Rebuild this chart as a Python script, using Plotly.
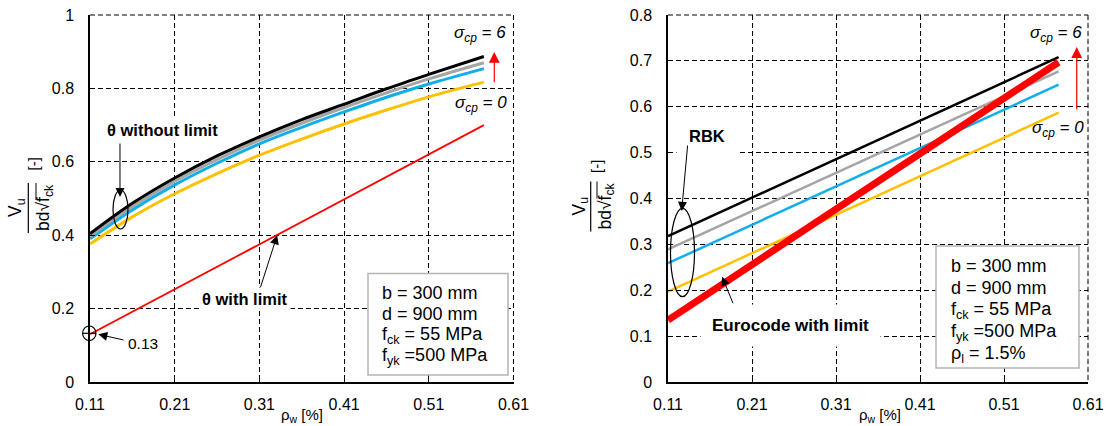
import plotly.graph_objects as go

W, H = 1106, 426

# ---------------- data ----------------
# Left panel: theta without limit (curves) and theta with limit (red line)
rho_left = [0.11, 0.16, 0.21, 0.26, 0.31, 0.36, 0.41, 0.46, 0.51, 0.575]
left_black = [0.404, 0.487, 0.556, 0.616, 0.668, 0.715, 0.757, 0.799, 0.838, 0.887]
left_gray = [0.397, 0.478, 0.547, 0.606, 0.659, 0.705, 0.748, 0.788, 0.826, 0.870]
left_blue = [0.390, 0.469, 0.537, 0.596, 0.649, 0.694, 0.736, 0.776, 0.812, 0.854]
left_yellow = [0.376, 0.450, 0.513, 0.568, 0.618, 0.662, 0.703, 0.741, 0.777, 0.817]
rho_red_left = [0.11, 0.575]
left_red = [0.13, 0.70]

# Right panel: RBK lines and Eurocode with limit
rho_right = [0.11, 0.575]
right_black = [0.318, 0.708]
right_gray = [0.289, 0.677]
right_blue = [0.259, 0.648]
right_yellow = [0.197, 0.587]
right_red = [0.135, 0.697]

x_ticks = [0.11, 0.21, 0.31, 0.41, 0.51, 0.61]
x_ticktext = ["0.11", "0.21", "0.31", "0.41", "0.51", "0.61"]
yl_ticks = [0, 0.2, 0.4, 0.6, 0.8, 1.0]
yl_ticktext = ["0", "0.2", "0.4", "0.6", "0.8", "1"]
yr_ticks = [0, 0.1, 0.2, 0.3, 0.4, 0.5, 0.6, 0.7, 0.8]
yr_ticktext = ["0", "0.1", "0.2", "0.3", "0.4", "0.5", "0.6", "0.7", "0.8"]

box_left_lines = ["b = 300 mm", "d = 900 mm", "f<sub>ck</sub> = 55 MPa", "f<sub>yk</sub> =500 MPa"]
box_right_lines = ["b = 300 mm", "d = 900 mm", "f<sub>ck</sub> = 55 MPa", "f<sub>yk</sub> =500 MPa",
                   "ρ<sub>l</sub> = 1.5%"]

# ---------------- style ----------------
FONT = "Liberation Sans, Arial, Helvetica, sans-serif"
C_BLACK = "#000000"
C_GRAY = "#a5a5a5"
C_BLUE = "#12aee8"
C_YELLOW = "#ffc000"
C_RED = "#ff0000"
DASH = "5px,3px"


def px(x):
    return x / W


def py(y):
    return 1 - y / H


fig = go.Figure()


def add_line(x, y, color, width, xa, ya, shape="linear"):
    fig.add_trace(go.Scatter(x=x, y=y, mode="lines", xaxis=xa, yaxis=ya,
                             line=dict(color=color, width=width, shape=shape),
                             showlegend=False, hoverinfo="skip"))


# left panel
add_line(rho_red_left, left_red, C_RED, 1.8, "x", "y")
add_line(rho_left, left_yellow, C_YELLOW, 3, "x", "y", "spline")
add_line(rho_left, left_blue, C_BLUE, 3, "x", "y", "spline")
add_line(rho_left, left_gray, C_GRAY, 3, "x", "y", "spline")
add_line(rho_left, left_black, C_BLACK, 3, "x", "y", "spline")

# right panel
add_line(rho_right, right_yellow, C_YELLOW, 2.5, "x2", "y2")
add_line(rho_right, right_blue, C_BLUE, 2.5, "x2", "y2")
add_line(rho_right, right_gray, C_GRAY, 2.5, "x2", "y2")
add_line(rho_right, right_black, C_BLACK, 2.5, "x2", "y2")
add_line(rho_right, right_red, C_RED, 7, "x2", "y2")

PL_L, PL_R = 90, 513.5
PR_L, PR_R = 668, 1088
P_T, P_B = 15, 382
ydom = [py(P_B), py(P_T)]
axis_common = dict(
    showline=True, linecolor="black", linewidth=1.5,
    showgrid=True, gridcolor="black", gridwidth=1, griddash=DASH,
    zeroline=False, ticks="inside", ticklen=5, tickcolor="black", tickwidth=1,
    tickfont=dict(family=FONT, size=16, color="black"),
    mirror=False, fixedrange=True, automargin=False,
)

fig.update_layout(
    width=W, height=H, autosize=False,
    margin=dict(l=0, r=0, t=0, b=0, pad=0, autoexpand=False),
    paper_bgcolor="white", plot_bgcolor="white",
    showlegend=False,
    font=dict(family=FONT, color="black"),
    xaxis=dict(domain=[px(PL_L), px(PL_R)], range=[0.11, 0.61], tickmode="array",
               tickvals=x_ticks, ticktext=x_ticktext, anchor="y",
               ticklabelstandoff=7, **axis_common),
    yaxis=dict(domain=ydom, range=[0, 1], tickmode="array",
               tickvals=yl_ticks, ticktext=yl_ticktext, anchor="x",
               ticklabelstandoff=11, **axis_common),
    xaxis2=dict(domain=[px(PR_L), px(PR_R)], range=[0.11, 0.61], tickmode="array",
                tickvals=x_ticks, ticktext=x_ticktext, anchor="y2",
                ticklabelstandoff=7, **axis_common),
    yaxis2=dict(domain=ydom, range=[0, 0.8], tickmode="array",
                tickvals=yr_ticks, ticktext=yr_ticktext, anchor="x2",
                ticklabelstandoff=11, **axis_common),
)

shapes = []
annos = []


def pline(x0, y0, x1, y1, width=1.2, dash=None, layer="above"):
    ln = dict(color="black", width=width)
    if dash:
        ln["dash"] = dash
    shapes.append(dict(type="line", xref="paper", yref="paper",
                       x0=px(x0), x1=px(x1), y0=py(y0), y1=py(y1), line=ln, layer=layer))


# dashed top / right borders (end gridlines)
for l, r in ((PL_L, PL_R), (PR_L, PR_R)):
    pline(l, P_T, r, P_T, width=1, dash=DASH, layer="below")
    pline(r, P_T, r, P_B, width=1, dash=DASH, layer="below")


def text(x, y, t, font, **kw):
    d = dict(xref="paper", yref="paper", x=px(x), y=py(y), text=t, showarrow=False,
             xanchor="center", yanchor="middle", font=font)
    d.update(kw)
    annos.append(d)


def arrow(xa, ya, x, y, ax, ay, color="black", width=1.0):
    annos.append(dict(xref=xa, yref=ya, x=x, y=y, ax=ax, ay=ay, axref=xa, ayref=ya,
                      text="", showarrow=True, arrowhead=2, arrowsize=1.8,
                      arrowwidth=width, arrowcolor=color, standoff=0))


# ---- parameter boxes ----
shapes.append(dict(type="rect", xref="paper", yref="paper",
                   x0=px(368), x1=px(508), y0=py(375), y1=py(273.5),
                   fillcolor="white", line=dict(color="#b4b4b4", width=1.5), layer="above"))
shapes.append(dict(type="rect", xref="paper", yref="paper",
                   x0=px(936), x1=px(1079), y0=py(368), y1=py(246),
                   fillcolor="white", line=dict(color="#b4b4b4", width=1.5), layer="above"))
BOXF = dict(family=FONT, size=18, color="black")
for i, t in enumerate(box_left_lines):
    text(380, 293 + i * 21.3, t, BOXF, xanchor="left")
for i, t in enumerate(box_right_lines):
    text(949, 266 + i * 22.2, t, BOXF, xanchor="left")

# ---- sigma labels ----
SIGF = dict(family=FONT, size=17, color="black")
sig6 = "<i>σ<sub>cp</sub> = 6</i>"
sig0 = "<i>σ<sub>cp</sub> = 0</i>"
text(508, 34, sig6, SIGF, xanchor="right")
text(509, 104, sig0, SIGF, xanchor="right")
text(1084, 34, sig6, SIGF, xanchor="right")
text(1086, 129, sig0, SIGF, xanchor="right")

# red sigma arrows
arrow("x", "y", 0.5873, 0.899, 0.5873, 0.813, color=C_RED, width=1.2)
arrow("x2", "y2", 0.5966, 0.730, 0.5966, 0.591, color=C_RED, width=1.2)

# ---- left panel labels ----
BOLD = dict(family=FONT, size=16.5, color="black")
text(162.5, 130, "<b>θ without limit</b>", BOLD, bgcolor="white", borderpad=2)
arrow("x", "y", 0.1454, 0.504, 0.1454, 0.654)
shapes.append(dict(type="circle", xref="paper", yref="paper",
                   x0=px(113), x1=px(128), y0=py(229), y1=py(190),
                   line=dict(color="black", width=1.2), layer="above"))

text(244.5, 298.5, "<b>θ with limit</b>", BOLD, bgcolor="white", borderpad=2)
arrow("x", "y", 0.331, 0.40, 0.3107, 0.254)

# circle with cross at 0.13
cx, cy, rx, ry = 89.3, 333.3, 6.7, 7.3
shapes.append(dict(type="circle", xref="paper", yref="paper",
                   x0=px(cx - rx), x1=px(cx + rx), y0=py(cy + ry), y1=py(cy - ry),
                   line=dict(color="black", width=1.2), layer="above"))
pline(cx - rx, cy, cx + rx, cy)
pline(cx, cy + ry, cx, cy - ry)
text(142.5, 343.5, "0.13", dict(family=FONT, size=15.5, color="black"))
arrow("x", "y", 0.1198, 0.130, 0.1513, 0.1136)

# ---- right panel labels ----
text(706.7, 135.5, "<b>RBK</b>", BOLD, bgcolor="white", borderpad=12)
arrow("x2", "y2", 0.1263, 0.373, 0.1335, 0.5186)
shapes.append(dict(type="circle", xref="paper", yref="paper",
                   x0=px(670.5), x1=px(694.5), y0=py(296.7), y1=py(208.3),
                   line=dict(color="black", width=1.2), layer="above"))

text(790, 325.5, "<b>Eurocode with limit</b>", dict(family=FONT, size=17, color="black"),
     bgcolor="white", borderpad=11)
arrow("x2", "y2", 0.1744, 0.2295, 0.1881, 0.1685)

# ---- axis titles ----
for cxp in (301.5, 880):
    text(cxp, 415, "ρ<sub>w</sub> [%]", dict(family=FONT, size=15, color="black"))

YT = dict(family=FONT, size=17.5, color="black")
for xv, xbar, xden, xbr, yc, ybr in [(17, 28.3, 45, 32.5, 208, 164),
                                      (580, 590.7, 606, 596, 206.5, 167)]:
    text(xv, yc, "V<sub>u</sub>", YT, textangle=-90)
    text(xden, yc, "bd√f<sub>ck</sub>", YT, textangle=-90)
    text(xbr, ybr, "[-]", dict(family=FONT, size=15, color="black"), textangle=-90)
    pline(xbar, yc + 25, xbar, yc - 25)
    # radical vinculum over f_ck
    pline(xden - 9, yc - 25, xden - 9, yc - 8, width=1)

fig.update_layout(shapes=shapes, annotations=annos)
fig.write_html("out.html", config={"displayModeBar": False},
               post_script="document.body.style.margin='0px';")
